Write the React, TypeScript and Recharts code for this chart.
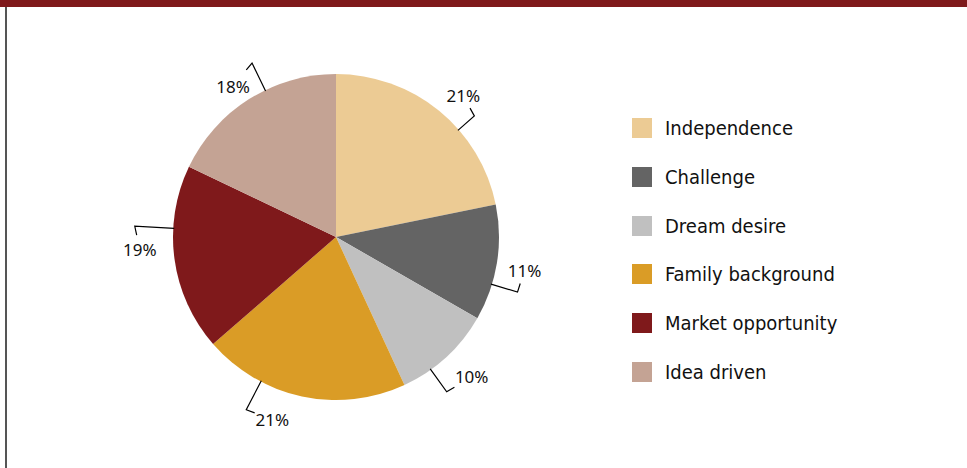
import React from "react";
import { PieChart, Pie, Cell } from "recharts";

const categories = ["Independence", "Challenge", "Dream desire", "Family background", "Market opportunity", "Idea driven"];
const shares = [21.8, 11.5, 9.8, 20.5, 18.5, 17.9];
const shareLabels = ["21%", "11%", "10%", "21%", "19%", "18%"];
const colors = ["#ECCB94", "#646464", "#C0C0C0", "#DA9C26", "#7F191B", "#C4A394"];

// label layout only: text nudge relative to default radial position, and leader elbow relative to text
const labelNudges = [
  [4, 10],
  [-4, 2],
  [4, -4],
  [-23, -8],
  [-3, -14],
  [1, 14],
];
const elbowOffsets = [
  [11, 20],
  [-7, 22],
  [-25, 15],
  [-26, -10],
  [-5, -23],
  [19, -23],
];

const data = categories.map((name, i) => ({ name, value: shares[i] }));

const RAD = Math.PI / 180;

const renderLabel = (props: any) => {
  const { cx, cy, midAngle, outerRadius, index } = props;
  const cos = Math.cos(-midAngle * RAD);
  const sin = Math.sin(-midAngle * RAD);
  const tr = outerRadius + 32;
  const tx = cx + tr * cos + labelNudges[index][0];
  const ty = cy + tr * sin + labelNudges[index][1];
  const ex = tx + elbowOffsets[index][0];
  const ey = ty + elbowOffsets[index][1];
  const vx = ex - cx;
  const vy = ey - cy;
  const vr = Math.sqrt(vx * vx + vy * vy);
  const sx = cx + (vx / vr) * (outerRadius - 1);
  const sy = cy + (vy / vr) * (outerRadius - 1);
  const wx = tx - ex;
  const wy = ty - ey;
  const wr = Math.sqrt(wx * wx + wy * wy) || 1;
  const kx = ex + (wx / wr) * 9;
  const ky = ey + (wy / wr) * 9;
  return (
    <g key={`lab-${index}`}>
      <polyline points={`${sx},${sy} ${ex},${ey} ${kx},${ky}`} fill="none" stroke="#000" strokeWidth={1.2} />
      <text x={tx} y={ty} textAnchor="middle" dominantBaseline="central" fontFamily="'Noto Sans', sans-serif" fontSize={17} fill="#111">
        {shareLabels[index]}
      </text>
    </g>
  );
};

export default function App() {
  return (
    <div style={{ position: "absolute", left: 0, top: 0, width: 967, height: 468, background: "#fff", overflow: "hidden" }}>
      <div style={{ position: "absolute", left: 0, top: 0, width: 967, height: 7, background: "#7F191B" }} />
      <div style={{ position: "absolute", left: 5, top: 7, width: 2, height: 461, background: "#555" }} />
      <div style={{ position: "absolute", left: 0, top: 0 }}>
        <PieChart width={967} height={468} margin={{ top: 0, right: 0, bottom: 0, left: 0 }}>
          <Pie
            data={data}
            dataKey="value"
            nameKey="name"
            cx={336}
            cy={237}
            outerRadius={163}
            startAngle={90}
            endAngle={-270}
            stroke="none"
            isAnimationActive={false}
            labelLine={false}
            label={renderLabel}
          >
            {data.map((d, i) => (
              <Cell key={d.name} fill={colors[i]} />
            ))}
          </Pie>
        </PieChart>
      </div>
      <div
        style={{
          position: "absolute",
          left: 632,
          top: 104,
          fontFamily: "'DejaVu Sans', sans-serif",
          fontStretch: "condensed",
          fontSize: 20,
          color: "#111",
        }}
      >
        {categories.map((c, i) => (
          <div key={c} style={{ display: "flex", alignItems: "center", height: 48.7 }}>
            <div style={{ width: 20, height: 20, background: colors[i], marginRight: 13 }} />
            <span style={{ lineHeight: "20px", whiteSpace: "nowrap" }}>{c}</span>
          </div>
        ))}
      </div>
    </div>
  );
}
